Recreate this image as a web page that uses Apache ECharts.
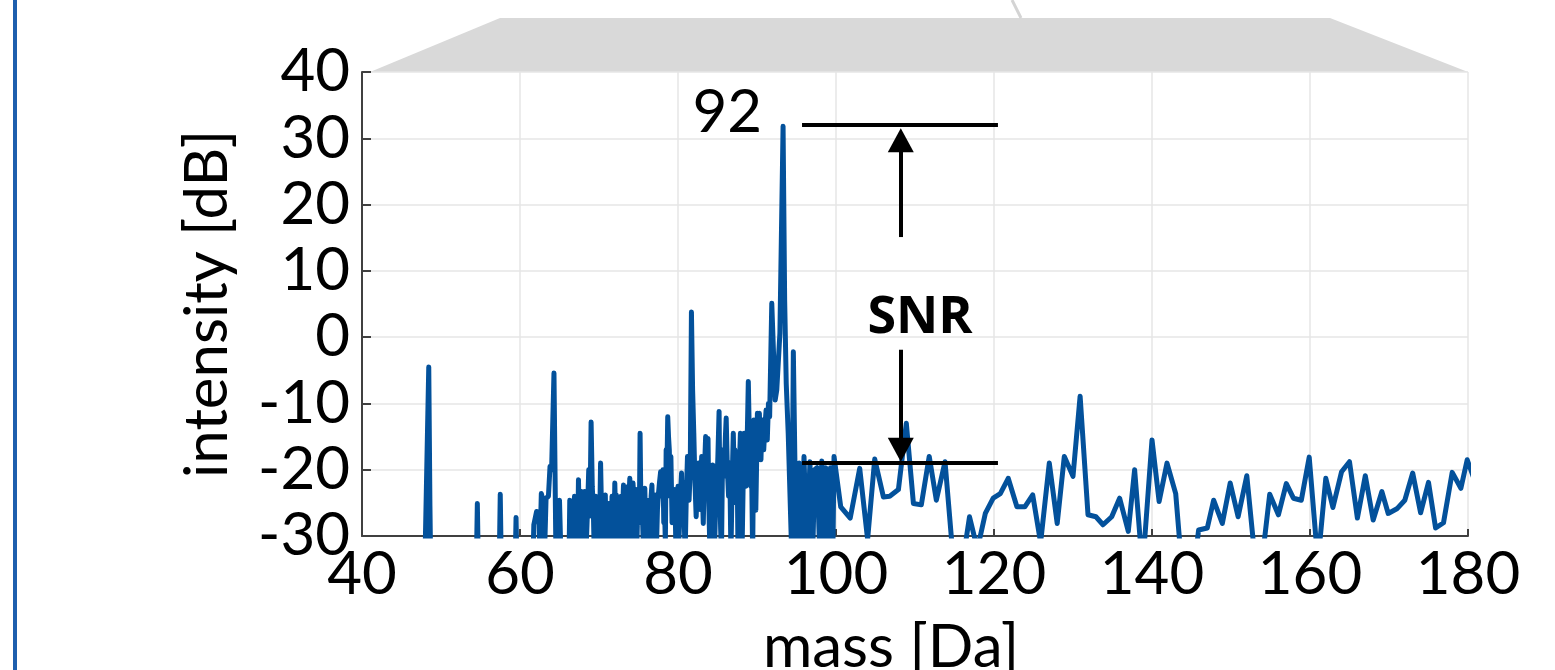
<!DOCTYPE html>
<html>
<head>
<meta charset="utf-8">
<script src="https://cdn.jsdelivr.net/npm/echarts@6/dist/echarts.min.js"></script>
<style>
html,body{margin:0;padding:0;background:#fff;overflow:hidden;}
#c{width:1555px;height:670px;}
</style>
</head>
<body>
<div id="c"></div>
<script>
// ---- data (mass [Da], intensity [dB]) ----
const masses = [
  40, 47.9, 48.45, 48.6, 48.75, 54.4, 54.6, 54.8, 57.3, 57.5, 57.7, 59.3, 59.5, 59.7,
  61.6, 61.75, 62.0, 62.1, 62.4, 62.5, 62.7, 62.9, 63.1, 63.3, 63.6, 63.8, 64.0, 64.3, 64.55,
  64.8, 64.9, 65.0, 65.2, 66.2, 66.3, 66.4, 66.5, 66.6, 66.75,
  66.9, 67.0, 67.15, 67.3, 67.4, 67.5, 67.6, 67.7, 67.8, 67.9,
  68.0, 68.1, 68.2, 68.3, 68.4, 68.55, 68.7, 68.85, 69.0, 69.15,
  69.3, 69.4, 69.5, 69.6, 69.75, 69.9, 70.05, 70.2, 70.3, 70.4,
  70.5, 70.6, 70.7, 70.8, 70.9, 71.0, 71.1, 71.2, 71.35, 71.5,
  71.65, 71.8, 71.9, 72.0, 72.1, 72.2, 72.35, 72.5, 72.6, 72.7,
  72.8, 72.9, 73.0, 73.1, 73.2, 73.3, 73.4, 73.5, 73.6, 73.7,
  73.8, 73.9, 74.0, 74.1, 74.2, 74.3, 74.45, 74.6, 74.7, 74.8,
  74.9, 75.0, 75.1, 75.2, 75.3, 75.4, 75.5, 75.6, 75.7, 75.8,
  75.9, 76.0, 76.15, 76.3, 76.4, 76.5, 76.6, 76.7, 76.8, 76.9,
  77.0, 77.1, 77.2, 77.3, 77.4, 77.5, 77.65, 77.8, 77.95, 78.1,
  78.2, 78.3, 78.4, 78.5, 78.6, 78.7, 78.8, 78.9, 79.0, 79.1,
  79.25, 79.4, 79.5, 79.6, 79.75, 79.9, 80.0, 80.1, 80.2, 80.3,
  80.45, 80.55, 80.7, 80.8, 80.9, 81.05, 81.2, 81.3, 81.4, 81.55,
  81.7, 81.85, 82.0, 82.15, 82.3, 82.45, 82.6, 82.7, 82.8, 82.9,
  83.0, 83.1, 83.2, 83.35, 83.5, 83.65, 83.8, 83.9, 84.05, 84.2,
  84.4, 84.5, 84.6, 84.75, 84.9, 85.05, 85.2, 85.3, 85.4, 85.5,
  85.6, 85.7, 85.85, 86.0, 86.1, 86.25, 86.4, 86.55, 86.7, 86.85,
  87.0, 87.1, 87.2, 87.35, 87.5, 87.6, 87.75, 87.9, 88.0, 88.1,
  88.25, 88.4, 88.5, 88.6, 88.75, 88.9, 89.05, 89.2, 89.3, 89.45,
  89.6, 89.75, 89.85, 89.95, 90.05, 90.2, 90.3, 90.4, 90.5, 90.6,
  90.7, 90.85, 91.0, 91.15, 91.3, 91.45, 91.6,
  91.87, 92.3, 92.5, 92.9, 93.3, 93.5, 93.7, 93.95, 94.4,
  94.6, 94.8, 95.0, 95.35, 95.66, 95.95, 96.3, 96.7, 97.05, 97.3, 97.6, 97.95, 98.2, 98.5, 98.7,
  99.0, 99.3, 99.6, 99.75, 100.6, 101.8, 103.0, 104.0, 104.9, 106.0, 106.8, 107.9, 108.9, 109.8,
  110.8, 111.8, 112.7, 113.8, 114.8, 115.9, 116.9, 117.9, 118.9, 119.9, 120.8, 121.8, 122.9,
  123.9, 124.9, 125.9, 127.0, 128.0, 128.9, 130.0, 130.9, 131.9, 132.9, 133.8, 134.9, 135.9,
  137.0, 137.8, 138.8, 140.0, 140.9, 141.9, 143.0, 144.0, 145.0, 145.9, 147.0, 147.8, 148.9,
  149.9, 150.9, 152.0, 153.0, 154.0, 154.9, 156.0, 157.0, 157.9, 158.9, 159.9, 161.0, 162.0,
  162.9, 164.0, 165.0, 166.0, 167.0, 168.0, 169.1, 169.9, 171.0, 172.0, 173.0, 174.0, 175.0,
  175.9, 176.9, 178.0, 179.1, 179.9, 180.8
];
const intensity = [
  -45, -38, -4.5, -25.5, -40, -40, -25.1, -40, -40, -23.7, -40, -40, -27.2, -40,
  -36, -28.3, -28.5, -26.3, -26.5, -33, -23.6, -24.5, -33, -24.3, -24.0, -19.5, -20, -5.4, -33,
  -25, -31, -24.6, -34, -34, -24.6, -31, -26, -33, -27,
  -24, -31, -26, -31, -21.5, -27, -26, -31, -23.3, -28,
  -31, -25, -23.3, -29, -31, -26, -20, -27, -12.8, -22.6,
  -27, -33, -28, -24, -31, -28, -31, -19.0, -25, -23.8,
  -29, -31, -25, -23.8, -31, -27, -31, -25.1, -28, -31,
  -24, -26.1, -31, -22, -27, -23.8, -29, -31, -25, -27.3,
  -24, -31, -26, -22.3, -28, -25, -31, -22.6, -27, -31,
  -24, -21.3, -28, -25, -31, -22.0, -25, -27, -23, -31,
  -26, -23, -28, -14.5, -25, -22.8, -27, -31, -25, -22.8,
  -29, -26, -31, -24.6, -27, -31, -24, -22.3, -28, -25,
  -31, -23.8, -27, -30.5, -26, -24, -22, -20.3, -24, -20.0,
  -28, -26, -31, -17, -20, -12.0, -15, -17, -24, -18,
  -28, -23, -26, -23, -33, -26, -22.5, -31, -28, -24,
  -20.5, -27, -22, -28, -33, -24, -18, -22, -24.6, -20,
  3.8, -8, -14.5, -22, -27.1, -22, -19.0, -24, -26, -21,
  -18.0, -24, -28.1, -20, -15.0, -23, -15.3, -25, -33, -24,
  -19.3, -27, -33, -26, -23.0, -18, -11.2, -24, -29, -33,
  -22, -17.0, -21, -15, -12.2, -20, -24.0, -19, -33, -22,
  -14.5, -20, -17, -25.0, -21, -33, -20, -14.5, -24, -33,
  -22, -14.5, -18, -22.5, -16, -6.7, -16, -22.5, -18, -33,
  -12.5, -20, -26.1, -19, -11.5, -15, -11.5, -16, -18.5, -14,
  -12.5, -17, -13.5, -11, -15.5, -10, -12.0,
  5.1, -9.5, -8.0, 0.6, 31.8, 5.6, -7, -14.5, -33,
  -2.2, -19, -33, -19, -33, -18, -33, -18.8, -33, -20, -19.7, -33, -18.7, -33, -19.7,
  -33, -19.7, -33, -18.0, -25.6, -27.3, -19.8, -30.5, -18.4, -24.1, -24.0, -23.0, -13.0, -25.1,
  -25.3, -18.0, -24.6, -18.8, -33, -35, -27.1, -32, -26.6, -24.3, -23.6, -21.3, -25.6,
  -25.6, -23.8, -31, -19.0, -28.1, -18.0, -21.0, -8.9, -26.8, -27.1, -28.3, -27.1, -24.3,
  -29.3, -20.0, -35, -15.5, -24.8, -19.0, -23.6, -38, -38, -29.1, -28.8, -24.6, -28.1,
  -22.0, -27.1, -20.9, -33, -33, -23.7, -26.8, -22.1, -24.3, -24.6, -18.1, -34, -21.3,
  -25.7, -20.3, -18.8, -27.3, -20.9, -27.6, -23.3, -26.6, -25.9, -24.6, -20.5, -26.5, -21.9,
  -28.8, -28.0, -20.4, -22.8, -18.5, -21.5
];
const xTicks = [40, 60, 80, 100, 120, 140, 160, 180];
const yTicks = [-30, -20, -10, 0, 10, 20, 30, 40];
const xName = 'mass [Da]';
const yName = 'intensity [dB]';
// annotation anchors (data coordinates)
const peakLabel = '92';
const snrTop = 32, snrBottom = -19;
const snrX0 = 95.7, snrX1 = 120.5, snrArrowX = 108.2;

const n = Math.min(masses.length, intensity.length);
const seriesData = masses.slice(0, n).map((m, i) => [m, intensity[i]]);
const FONT = 'Lato';
const FS = 60;
const chart = echarts.init(document.getElementById('c'), null, {renderer: 'canvas'});

chart.setOption({
  animation: false,
  backgroundColor: '#ffffff',
  grid: {left: 362, right: 87, top: 72, bottom: 134, containLabel: false, outerBoundsMode: 'none'},
  xAxis: {
    type: 'value', min: xTicks[0], max: xTicks[xTicks.length - 1], interval: 20,
    axisLine: {show: true, onZero: false, lineStyle: {color: '#404040', width: 2}},
    axisTick: {show: true, inside: true, length: 7, lineStyle: {color: '#404040', width: 2}},
    axisLabel: {fontFamily: FONT, fontSize: FS, color: '#000', margin: 9},
    splitLine: {show: true, lineStyle: {color: '#e6e6e6', width: 1.5}}
  },
  yAxis: {
    type: 'value', min: yTicks[0], max: yTicks[yTicks.length - 1], interval: 10,
    name: yName, nameLocation: 'middle', nameGap: 124, nameRotate: 90,
    nameTextStyle: {fontFamily: FONT, fontSize: FS, color: '#000'},
    axisLine: {show: true, onZero: false, lineStyle: {color: '#404040', width: 2}},
    axisTick: {show: true, inside: true, length: 9, lineStyle: {color: '#404040', width: 2}},
    axisLabel: {fontFamily: FONT, fontSize: FS, color: '#000', margin: 12},
    splitLine: {show: true, lineStyle: {color: '#e6e6e6', width: 1.5}}
  },
  series: [
    {
      type: 'line', data: seriesData, showSymbol: false, clip: true,
      lineStyle: {color: '#03519b', width: 5, join: 'round', cap: 'round'},
      z: 3
    },
    {
      type: 'line', data: [], silent: true, z: 5,
      markLine: {
        silent: true, animation: false,
        symbol: ['none', 'none'],
        label: {show: false},
        lineStyle: {color: '#000', width: 4, type: 'solid'},
        emphasis: {disabled: true},
        data: [
          [{coord: [snrX0, snrTop]}, {coord: [snrX1, snrTop]}],
          [{coord: [snrX0, snrBottom]}, {coord: [snrX1, snrBottom]}],
          [{coord: [snrArrowX, 15.1], symbol: 'none'}, {coord: [snrArrowX, 29.7], symbol: 'triangle', symbolSize: [26, 24]}],
          [{coord: [snrArrowX, -1.9], symbol: 'none'}, {coord: [snrArrowX, -17.0], symbol: 'triangle', symbolSize: [26, 24]}]
        ]
      }
    }
  ],
  graphic: [
    {type: 'polygon', z: 0, silent: true,
     shape: {points: [[370, 72], [500, 18], [1330, 18], [1468, 72]]},
     style: {fill: '#d9d9d9'}},
    {type: 'line', z: 0, silent: true,
     shape: {x1: 1012, y1: 0, x2: 1021, y2: 18},
     style: {stroke: '#d4d4d4', lineWidth: 3}},
    {type: 'line', z: 10, silent: true,
     shape: {x1: 15, y1: 0, x2: 15, y2: 670},
     style: {stroke: '#1d5fae', lineWidth: 4}},
    {type: 'text', z: 10, silent: true, x: 891, y: 618,
     style: {text: xName, fontFamily: FONT, fontSize: FS, fill: '#000', align: 'center', verticalAlign: 'top'}},
    {type: 'text', z: 10, silent: true, x: 762, y: 113,
     style: {text: peakLabel, fontFamily: FONT, fontSize: FS, fill: '#000', align: 'right', verticalAlign: 'middle'}},
    {type: 'text', z: 10, silent: true, x: 920, y: 318,
     style: {text: 'SNR', fontFamily: 'Open Sans', fontWeight: 'bold', fontSize: 52, fill: '#000', align: 'center', verticalAlign: 'middle'}}
  ]
});
</script>
</body>
</html>
